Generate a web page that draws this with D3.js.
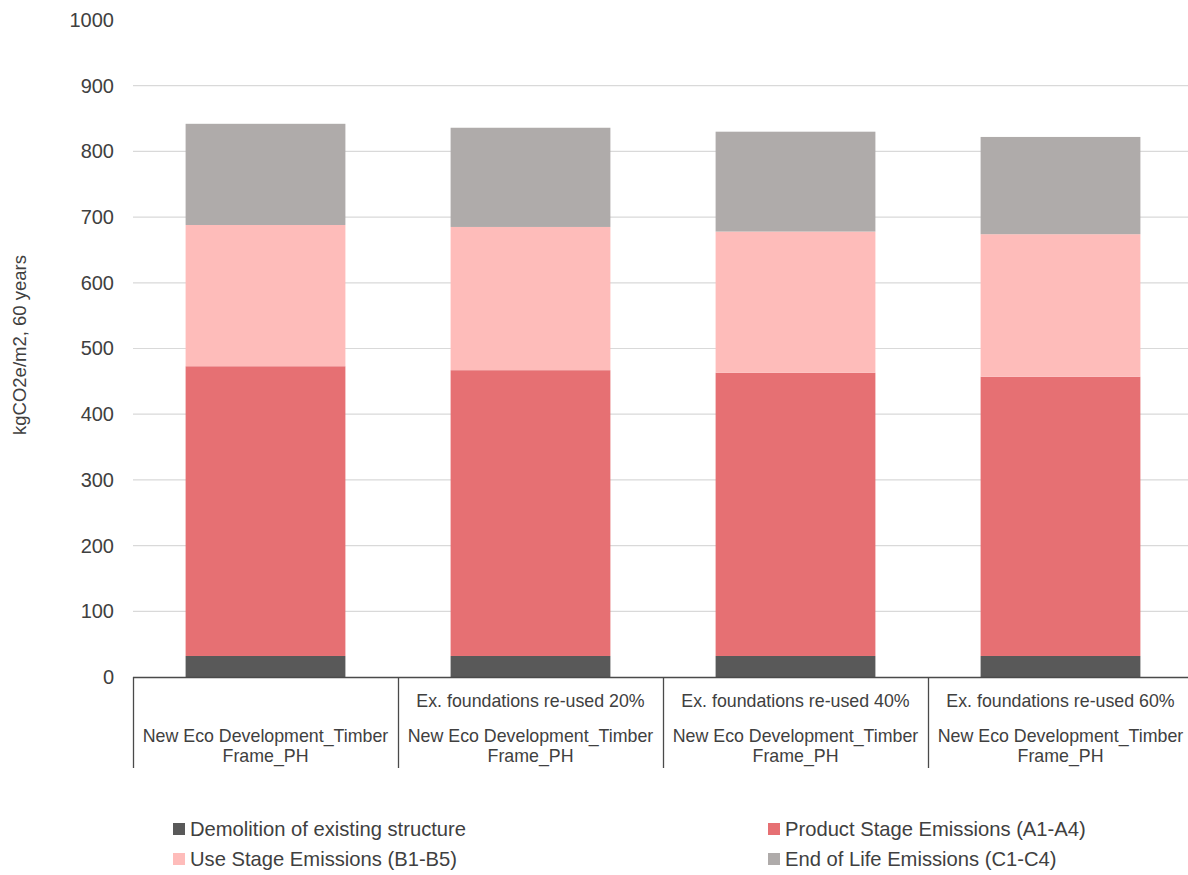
<!DOCTYPE html>
<html>
<head>
<meta charset="utf-8">
<script src="https://cdn.jsdelivr.net/npm/d3@7"></script>
<style>
  html, body { margin: 0; padding: 0; background: #fff; }
  svg { display: block; font-family: "Liberation Sans", Arial, sans-serif; }
</style>
</head>
<body>
<svg id="chart" width="1188" height="875"></svg>
<script>
// ---- Data ----
const categories = ["c1", "c2", "c3", "c4"];
const topLabels = ["", "Ex. foundations re-used 20%", "Ex. foundations re-used 40%", "Ex. foundations re-used 60%"];
const bottomLabels = ["New Eco Development_Timber\nFrame_PH", "New Eco Development_Timber\nFrame_PH", "New Eco Development_Timber\nFrame_PH", "New Eco Development_Timber\nFrame_PH"];
const seriesNames = ["Demolition of existing structure", "Product Stage Emissions (A1-A4)", "Use Stage Emissions (B1-B5)", "End of Life Emissions (C1-C4)"];
const demolition = [32, 32, 32, 32];
const productStage = [441, 435, 431, 425];
const useStage = [215, 218, 215, 217];
const endOfLife = [154, 151, 152, 148];
const yTicks = [0, 100, 200, 300, 400, 500, 600, 700, 800, 900, 1000];
const yTitle = "kgCO2e/m2, 60 years";

const colors = ["#595959", "#E67073", "#FEBCBA", "#AFABAA"];
const seriesValues = [demolition, productStage, useStage, endOfLife];

// ---- Layout ----
const svg = d3.select("#chart");
const plotLeft = 133, plotRight = 1193, plotTop = 20, plotBottom = 677;
const textColor = "#404040";

const x = d3.scaleBand().domain(categories).range([plotLeft, plotRight]).paddingInner(0).paddingOuter(0);
const y = d3.scaleLinear().domain([0, 1000]).range([plotBottom, plotTop]);

// gridlines
svg.append("g").selectAll("line")
  .data(yTicks.filter(t => t > 0 && t < 1000))
  .join("line")
  .attr("x1", plotLeft).attr("x2", 1188)
  .attr("y1", d => y(d)).attr("y2", d => y(d))
  .attr("stroke", "#d9d9d9").attr("stroke-width", 1.2);

// y axis tick labels
const yAxis = d3.axisLeft(y).tickValues(yTicks).tickFormat(d3.format("d")).tickSize(0).tickPadding(0);
const yg = svg.append("g").attr("transform", `translate(114,0)`).call(yAxis);
yg.select(".domain").remove();
yg.selectAll("text")
  .attr("font-size", 20).attr("fill", textColor)
  .attr("font-family", "'Liberation Sans', Arial, sans-serif");

// y title
svg.append("text")
  .attr("transform", `translate(26,345) rotate(-90)`)
  .attr("text-anchor", "middle")
  .attr("font-size", 18.5).attr("fill", textColor)
  .text(yTitle);

// stacked data
const table = categories.map((c, i) => {
  const o = { cat: c };
  seriesNames.forEach((s, j) => { o[s] = seriesValues[j][i]; });
  return o;
});
const stack = d3.stack().keys(seriesNames)(table);
const barW = x.bandwidth() * 0.603;

svg.append("g").selectAll("g")
  .data(stack).join("g")
  .attr("fill", (d, i) => colors[i])
  .selectAll("rect")
  .data(d => d).join("rect")
  .attr("x", d => x(d.data.cat) + (x.bandwidth() - barW) / 2)
  .attr("width", barW)
  .attr("y", d => y(d[1]))
  .attr("height", d => y(d[0]) - y(d[1]));

// category axis: baseline + separators
svg.append("line")
  .attr("x1", plotLeft).attr("x2", 1188)
  .attr("y1", plotBottom + 0.5).attr("y2", plotBottom + 0.5)
  .attr("stroke", "#4a4a4a").attr("stroke-width", 1.3);

svg.append("g").selectAll("line")
  .data(categories)
  .join("line")
  .attr("x1", d => x(d) + 0.5).attr("x2", d => x(d) + 0.5)
  .attr("y1", plotBottom).attr("y2", 768)
  .attr("stroke", "#4a4a4a").attr("stroke-width", 1.3);

// category labels
const catG = svg.append("g").attr("font-size", 17.8).attr("fill", textColor).attr("text-anchor", "middle");
catG.selectAll("text.top")
  .data(categories).join("text").attr("class", "top")
  .attr("x", d => x(d) + x.bandwidth() / 2)
  .attr("y", 707)
  .text((d, i) => topLabels[i]);

categories.forEach((c, i) => {
  const lines = bottomLabels[i].split("\n");
  lines.forEach((ln, k) => {
    catG.append("text")
      .attr("x", x(c) + x.bandwidth() / 2)
      .attr("y", 742 + k * 20)
      .text(ln);
  });
});

// legend
const legendPos = [[173, 829], [768, 829], [173, 859], [768, 859]];
const lg = svg.append("g");
seriesNames.forEach((s, i) => {
  const [lx, ly] = legendPos[i];
  lg.append("rect").attr("x", lx).attr("y", ly - 6).attr("width", 12).attr("height", 12).attr("fill", colors[i]);
  lg.append("text").attr("x", lx + 17).attr("y", ly + 7)
    .attr("font-size", 20.2).attr("fill", textColor).text(s);
});
</script>
</body>
</html>
